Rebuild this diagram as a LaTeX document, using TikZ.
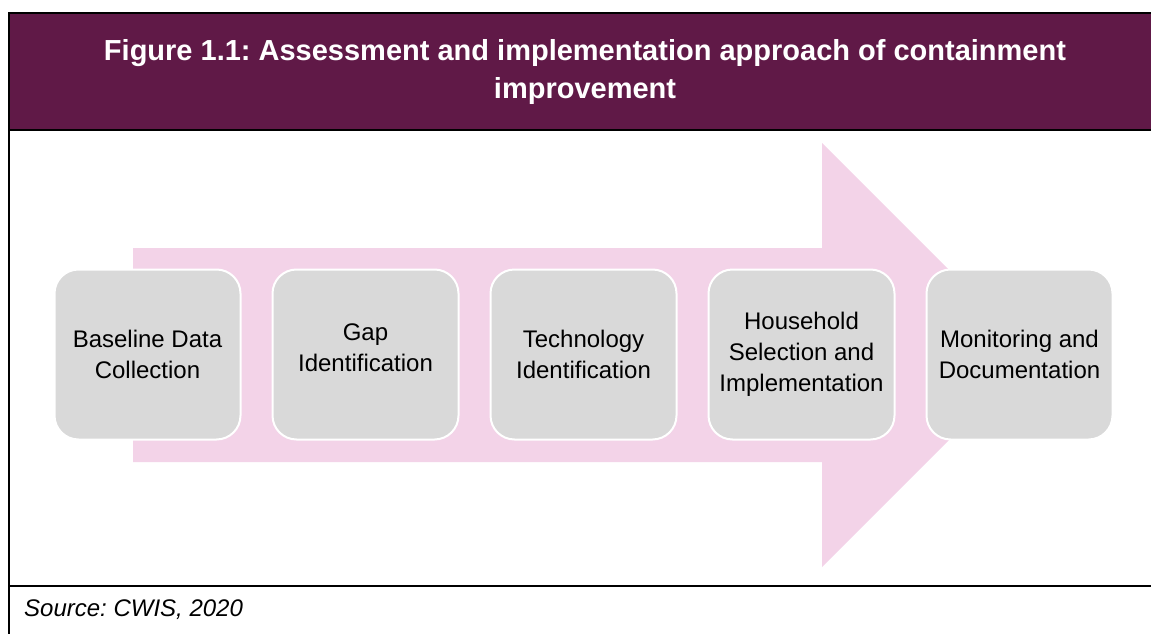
\documentclass[tikz,border=0pt]{standalone}
\usepackage{fontspec}
\setmainfont{Liberation Sans}
\frenchspacing
\definecolor{hdrpurple}{RGB}{96,25,71}
\definecolor{arrowpink}{RGB}{243,211,232}
\definecolor{boxgray}{RGB}{217,217,217}
\tikzset{
  frameline/.style={draw=black, line width=2pt},
  stepbox/.style={draw=white, line width=2pt, fill=boxgray, rounded corners=24pt,
    minimum width=186pt, minimum height=170pt, inner sep=0pt, align=center,
    font=\fontsize{24}{31}\selectfont, text=black},
  titletext/.style={text=white, align=center, font=\fontsize{29}{38}\selectfont\bfseries},
  sourcetext/.style={anchor=west, inner sep=0pt, font=\fontsize{24}{29}\selectfont\itshape}
}
\begin{document}
\begin{tikzpicture}[x=1pt,y=-1pt]
\useasboundingbox (0,0) rectangle (1151,634);
% header band
\fill[hdrpurple] (9,13) rectangle (1151,130);
\draw[frameline] (1151,13) -- (9,13) -- (9,634);
\draw[frameline] (9,130) -- (1151,130);
\draw[frameline] (9,586) -- (1151,586);
\node[titletext] (title) at (585,72) {Figure 1.1: Assessment and implementation approach of containment\\improvement};
% big arrow
\fill[arrowpink] (133,248) -- (822,248) -- (822,143) -- (1034,355) -- (822,567) -- (822,462) -- (133,462) -- cycle;
% boxes
\node[stepbox] (b1) at (147.5,354.5) {Baseline Data\\Collection};
\node[stepbox] (b2) at (365.5,354.5) {Gap\\Identification\\[-17pt]\mbox{}};
\node[stepbox] (b3) at (583.5,354.5) {Technology\\Identification};
\node[stepbox] (b4) at (801.5,354.5) {Household\\Selection and\\Implementation};
\node[stepbox] (b5) at (1019.5,354.5) {Monitoring and\\Documentation};
% source
\node[sourcetext] (src) at (24,610) {Source: CWIS, 2020};
\end{tikzpicture}
\end{document}
